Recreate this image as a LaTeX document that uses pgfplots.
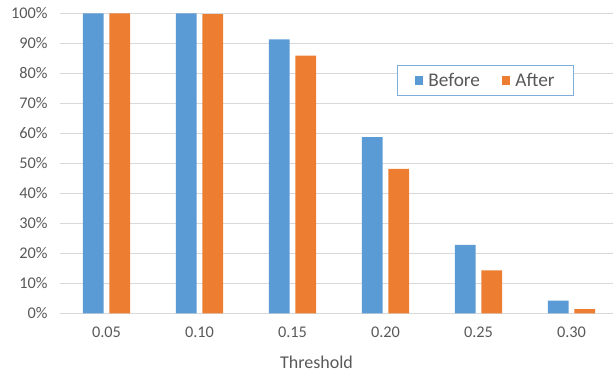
\documentclass[border=0pt]{standalone}
\usepackage{fontspec}
\setmainfont{Carlito}
\usepackage{pgfplots}
\pgfplotsset{compat=1.18}
\definecolor{cblue}{HTML}{5B9BD5}
\definecolor{corange}{HTML}{ED7D31}
\definecolor{gridc}{HTML}{D9D9D9}
\definecolor{txt}{HTML}{595959}
\definecolor{legc}{HTML}{7FAEDC}
\begin{document}
\begin{tikzpicture}
\path[use as bounding box] (-60bp,-61.7bp) rectangle (553bp,313.3bp);
\begin{axis}[
  at={(0,0)}, anchor=south west,
  scale only axis, width=553bp, height=300bp,
  xmin=-0.5, xmax=5.446, ymin=0, ymax=100,
  ybar=5.9bp, bar width=20.7bp,
  xtick={0,...,5}, xticklabels={0.05,0.10,0.15,0.20,0.25,0.30},
  ytick={0,10,...,100},
  yticklabel={\pgfmathprintnumber{\tick}\%},
  /pgf/number format/assume math mode=true,
  major tick length=0pt,
  axis line style={draw=none},
  ymajorgrids, grid style={draw=gridc, line width=0.9bp},
  tick label style={font=\fontsize{16.3bp}{19bp}\selectfont, text=txt},
  yticklabel style={xshift=-9bp},
  xticklabel style={yshift=-10.5bp},
  xlabel={Threshold},
  xlabel style={at={(axis description cs:0.4638,0)}, anchor=base, yshift=-54.7bp, font=\fontsize{18bp}{21bp}\selectfont, text=txt},
  clip=false,
  legend columns=2,
  legend style={at={(axis description cs:0.7699,0.776)}, anchor=center,
    draw=legc, line width=1bp, fill=white,
    font=\fontsize{19.3bp}{22bp}\selectfont, text=txt,
    inner xsep=17bp, inner ysep=6bp,
    /tikz/every odd column/.append style={column sep=3bp},
    /tikz/every even column/.append style={column sep=20bp}},
  legend image code/.code={\fill[#1] (0bp,-4.2bp) rectangle (8.4bp,4.2bp);},
]
\addplot[fill=cblue, draw=none] coordinates {(0,100) (1,100) (2,91.3) (3,58.7) (4,22.8) (5,4.2)};
\addplot[fill=corange, draw=none] coordinates {(0,100) (1,99.7) (2,85.9) (3,48.1) (4,14.3) (5,1.4)};
\legend{Before, After}
\end{axis}
\end{tikzpicture}
\end{document}
